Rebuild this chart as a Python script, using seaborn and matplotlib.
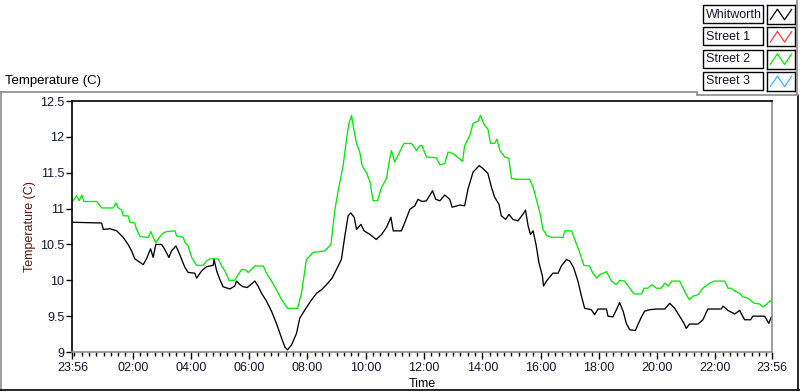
"""LabVIEW style temperature chart: Whitworth vs Street 2 over one day."""

import matplotlib

matplotlib.use("Agg")

import matplotlib.dates as mdates
import matplotlib.pyplot as plt
import pandas as pd
import seaborn as sns
from matplotlib.lines import Line2D
from matplotlib.patches import Rectangle
from matplotlib.ticker import FixedLocator

# hours after the 23:56 start
whitworth_hours = [
    0.0, 1.0, 1.06, 1.29, 1.52, 1.74, 1.91, 2.03, 2.14, 2.32, 2.43, 2.54, 2.68, 2.77, 2.86,
    3.06, 3.17, 3.31, 3.40, 3.55, 3.63, 3.75, 3.86, 3.97, 4.20, 4.26, 4.43, 4.60, 4.83, 4.86,
    4.95, 5.06, 5.17, 5.40, 5.57, 5.63, 5.75, 5.86, 6.0, 6.26, 6.37, 6.49, 6.66, 6.83, 7.00,
    7.18, 7.29, 7.38, 7.52, 7.69, 7.80, 7.98, 8.21, 8.38, 8.55, 8.72, 8.91, 9.06, 9.23, 9.35,
    9.46, 9.55, 9.67, 9.75, 9.90, 10.01, 10.21, 10.43, 10.61, 10.78, 10.93, 11.01, 11.29,
    11.41, 11.58, 11.75, 11.86, 12.0, 12.15, 12.36, 12.47, 12.61, 12.78, 12.95, 13.03, 13.29,
    13.46, 13.58, 13.75, 13.96, 14.09, 14.26, 14.38, 14.49, 14.64, 14.72, 14.87, 14.98, 15.12,
    15.29, 15.46, 15.55, 15.64, 15.72, 15.81, 15.92, 16.01, 16.13, 16.17, 16.27, 16.49, 16.67,
    16.78, 16.95, 17.07, 17.20, 17.35, 17.47, 17.58, 17.81, 17.92, 18.04, 18.33, 18.38, 18.55,
    18.67, 18.78, 18.90, 19.01, 19.13, 19.32, 19.41, 19.53, 19.64, 19.81, 20.04, 20.33, 20.50,
    20.67, 20.84, 20.99, 21.07, 21.18, 21.47, 21.64, 21.81, 22.27, 22.33, 22.50, 22.73, 22.90,
    23.07, 23.28, 23.35, 23.47, 23.76, 23.90, 24.0,
]
whitworth = [
    10.81, 10.80, 10.71, 10.72, 10.69, 10.60, 10.50, 10.41, 10.30, 10.25, 10.22, 10.30, 10.44,
    10.32, 10.50, 10.50, 10.43, 10.32, 10.41, 10.48, 10.41, 10.29, 10.18, 10.11, 10.10, 10.03,
    10.13, 10.19, 10.21, 10.29, 10.13, 10.01, 9.91, 9.88, 9.92, 9.99, 9.94, 9.91, 9.90, 9.99,
    9.92, 9.82, 9.71, 9.57, 9.40, 9.19, 9.07, 9.03, 9.10, 9.26, 9.47, 9.59, 9.73, 9.82, 9.87,
    9.94, 10.03, 10.15, 10.29, 10.62, 10.90, 10.94, 10.88, 10.71, 10.78, 10.69, 10.64, 10.57,
    10.64, 10.74, 10.88, 10.69, 10.69, 10.81, 10.99, 11.04, 11.13, 11.10, 11.11, 11.25, 11.13,
    11.11, 11.19, 11.13, 11.02, 11.05, 11.04, 11.28, 11.51, 11.60, 11.56, 11.49, 11.30, 11.16,
    11.06, 10.90, 10.85, 10.92, 10.85, 10.83, 10.92, 10.98, 10.76, 10.64, 10.69, 10.48, 10.25,
    10.06, 9.92, 9.99, 10.10, 10.10, 10.20, 10.29, 10.27, 10.18, 9.99, 9.78, 9.61, 9.59, 9.52,
    9.60, 9.60, 9.50, 9.49, 9.59, 9.69, 9.57, 9.40, 9.31, 9.30, 9.38, 9.49, 9.57, 9.59, 9.60,
    9.60, 9.68, 9.61, 9.50, 9.40, 9.33, 9.39, 9.39, 9.45, 9.60, 9.60, 9.64, 9.58, 9.53, 9.58,
    9.45, 9.45, 9.50, 9.50, 9.50, 9.40, 9.50,
]

street2_hours = [
    0.0, 0.14, 0.23, 0.32, 0.39, 0.83, 1.00, 1.40, 1.49, 1.57, 1.69, 1.74, 1.91, 1.97, 2.14,
    2.20, 2.32, 2.60, 2.69, 2.77, 2.86, 2.98, 3.11, 3.23, 3.52, 3.57, 3.80, 3.86, 3.97, 4.09,
    4.26, 4.49, 4.60, 4.72, 5.00, 5.12, 5.23, 5.38, 5.57, 5.69, 5.80, 5.92, 6.03, 6.26, 6.55,
    6.66, 6.83, 7.00, 7.18, 7.38, 7.73, 7.86, 8.03, 8.26, 8.66, 8.87, 9.01, 9.12, 9.29, 9.41,
    9.49, 9.58, 9.67, 9.75, 9.86, 9.94, 10.09, 10.21, 10.32, 10.47, 10.61, 10.78, 10.89, 10.95,
    11.06, 11.24, 11.38, 11.64, 11.81, 11.92, 12.0, 12.15, 12.49, 12.61, 12.78, 12.89, 13.06,
    13.24, 13.39, 13.46, 13.64, 13.75, 13.92, 14.00, 14.15, 14.26, 14.35, 14.49, 14.57, 14.67,
    14.84, 14.98, 15.07, 15.24, 15.69, 15.81, 15.92, 16.04, 16.15, 16.29, 16.44, 16.84, 16.90,
    17.13, 17.24, 17.41, 17.55, 17.75, 17.86, 18.00, 18.10, 18.33, 18.50, 18.67, 18.78, 18.95,
    19.13, 19.27, 19.53, 19.62, 19.75, 19.89, 20.04, 20.21, 20.33, 20.45, 20.57, 20.84, 20.96,
    21.07, 21.18, 21.30, 21.47, 21.64, 21.87, 22.04, 22.39, 22.50, 22.61, 22.73, 22.90, 23.01,
    23.19, 23.30, 23.41, 23.59, 23.70, 23.81, 23.93, 24.0,
]
street2 = [
    11.10, 11.18, 11.11, 11.19, 11.10, 11.10, 11.01, 11.01, 11.08, 11.01, 10.98, 10.90, 10.90,
    10.81, 10.80, 10.71, 10.61, 10.60, 10.68, 10.60, 10.52, 10.60, 10.66, 10.68, 10.69, 10.62,
    10.60, 10.53, 10.48, 10.32, 10.21, 10.21, 10.27, 10.30, 10.30, 10.20, 10.13, 10.00, 10.00,
    10.08, 10.15, 10.15, 10.11, 10.20, 10.20, 10.10, 9.99, 9.87, 9.73, 9.61, 9.61, 9.82, 10.29,
    10.39, 10.41, 10.50, 10.99, 11.25, 11.60, 11.98, 12.19, 12.30, 12.07, 11.91, 11.79, 11.60,
    11.50, 11.38, 11.11, 11.11, 11.30, 11.42, 11.70, 11.81, 11.65, 11.80, 11.91, 11.91, 11.81,
    11.88, 11.88, 11.72, 11.71, 11.61, 11.63, 11.79, 11.77, 11.71, 11.66, 11.88, 12.02, 12.19,
    12.22, 12.30, 12.16, 12.11, 11.91, 11.91, 11.97, 11.81, 11.72, 11.70, 11.42, 11.41, 11.41,
    11.30, 11.13, 10.95, 10.71, 10.62, 10.60, 10.60, 10.69, 10.69, 10.57, 10.39, 10.21, 10.20,
    10.10, 10.03, 10.08, 10.12, 9.99, 9.94, 10.00, 9.99, 9.89, 9.81, 9.81, 9.89, 9.89, 9.94,
    9.89, 9.89, 9.96, 9.92, 9.99, 9.99, 9.89, 9.80, 9.73, 9.78, 9.80, 9.89, 9.96, 9.99, 9.99,
    9.89, 9.89, 9.85, 9.82, 9.77, 9.75, 9.71, 9.68, 9.67, 9.63, 9.66, 9.71, 9.71,
]

legend_names = ["Whitworth", "Street 1", "Street 2", "Street 3"]
legend_colors = ["#000000", "#ff3b3b", "#00ee00", "#3ab4ff"]

y_ticks = [9, 9.5, 10, 10.5, 11, 11.5, 12, 12.5]
major_hours = [0, 2, 4, 6, 8, 10, 12, 14, 16, 18, 20, 22]

START = pd.Timestamp("2000-01-01 23:56")
END = START + pd.Timedelta(hours=24)
GRID_GRAY = "#8c8c8c"
LABEL_COLOR = "#141432"
PX = 1 / 800
PY = 1 / 392


def to_time(hours):
    return START + pd.to_timedelta(hours, unit="h")


def fig_box(fig, left, top, width, height):
    """Rectangle given in pixels from the top-left corner of the figure."""
    rect = Rectangle((left * PX, 1 - (top + height) * PY), width * PX, height * PY,
                     transform=fig.transFigure, fill=False, ec="black", lw=1)
    fig.add_artist(rect)


def main():
    sns.set_style("white")
    plt.rcParams["font.family"] = ["Liberation Sans", "DejaVu Sans"]
    plt.rcParams["font.size"] = 9

    fig = plt.figure(figsize=(8, 3.92), dpi=100)
    ax = fig.add_axes([0.0906, 0.102, 0.874, 0.640])

    w_df = pd.DataFrame({"time": to_time(whitworth_hours), "temp": whitworth})
    s_df = pd.DataFrame({"time": to_time(street2_hours), "temp": street2})
    sns.lineplot(data=s_df, x="time", y="temp", color=legend_colors[2], linewidth=0.95, ax=ax)
    sns.lineplot(data=w_df, x="time", y="temp", color=legend_colors[0], linewidth=0.95, ax=ax)

    ax.set_xlim(START, END)
    ax.set_ylim(9, 12.5)
    ax.set_yticks(y_ticks)
    ax.set_yticklabels([f"{t:g}" for t in y_ticks])

    midnight = pd.Timestamp("2000-01-02 00:00")
    majors = [START] + [midnight + pd.Timedelta(hours=h) for h in major_hours[1:]] + [END]
    ax.xaxis.set_major_locator(FixedLocator(mdates.date2num(majors)))
    ax.xaxis.set_major_formatter(mdates.DateFormatter("%H:%M"))
    ax.xaxis.set_minor_locator(mdates.MinuteLocator(byminute=[0, 15, 30, 45]))

    ax.tick_params(axis="y", which="major", length=4, width=1, color="black",
                   labelcolor=LABEL_COLOR, pad=2, left=True)
    ax.tick_params(axis="x", which="major", length=5, width=1, color="black",
                   labelcolor=LABEL_COLOR, pad=2, bottom=True)
    ax.tick_params(axis="x", which="minor", length=3, width=1, color="black", bottom=True)

    ax.set_ylabel("Temperature (C)", color="#5a1414", labelpad=3)
    ax.set_xlabel("Time", color="black", labelpad=3)

    ax.spines["left"].set_color("black")
    ax.spines["top"].set_color("black")
    ax.spines["right"].set_color(GRID_GRAY)
    ax.spines["bottom"].set_color(GRID_GRAY)
    for spine in ax.spines.values():
        spine.set_linewidth(1.2)

    # panel frame around the graph
    frame = [
        ([0, 697 * PX], [1 - 92 * PY, 1 - 92 * PY], GRID_GRAY),
        ([1 * PX, 1 * PX], [1 - 92 * PY, 2 * PY], GRID_GRAY),
        ([0, 1], [2 * PY, 2 * PY], "black"),
        ([798 * PX, 798 * PX], [1 - 95 * PY, 2 * PY], "black"),
        ([697 * PX, 697 * PX], [1 - 92 * PY, 1 - 95 * PY], GRID_GRAY),
        ([697 * PX, 798 * PX], [1 - 95 * PY, 1 - 95 * PY], GRID_GRAY),
        ([797 * PX, 797 * PX], [1, 1 - 95 * PY], GRID_GRAY),
    ]
    for xs, ys, col in frame:
        fig.add_artist(Line2D(xs, ys, color=col, linewidth=1.2, transform=fig.transFigure))

    fig.text(5 * PX, 1 - 81 * PY, "Temperature (C)", ha="left", va="center", color="black",
             fontsize=9.5)

    # LabVIEW style plot legend: fixed name box + line sample box
    for i, (name, col) in enumerate(zip(legend_names, legend_colors)):
        top = 5 + i * 22.3
        fig_box(fig, 703, top, 60, 18)
        fig.text(705.5 * PX, 1 - (top + 9.5) * PY, name, ha="left", va="center",
                 color=LABEL_COLOR, fontsize=9)
        sample = fig.add_axes([767 * PX, 1 - (top + 19) * PY, 28 * PX, 19 * PY])
        sample.plot([0, 1, 2, 3], [0, 1, 0, 1], color=col, linewidth=0.9)
        sample.set_xlim(-0.45, 3.45)
        sample.set_ylim(-0.4, 1.4)
        sample.set_xticks([])
        sample.set_yticks([])
        for spine in sample.spines.values():
            spine.set_color("black")
            spine.set_linewidth(1)

    fig.savefig("out.png", dpi=100)
    plt.close(fig)


if __name__ == "__main__":
    main()
